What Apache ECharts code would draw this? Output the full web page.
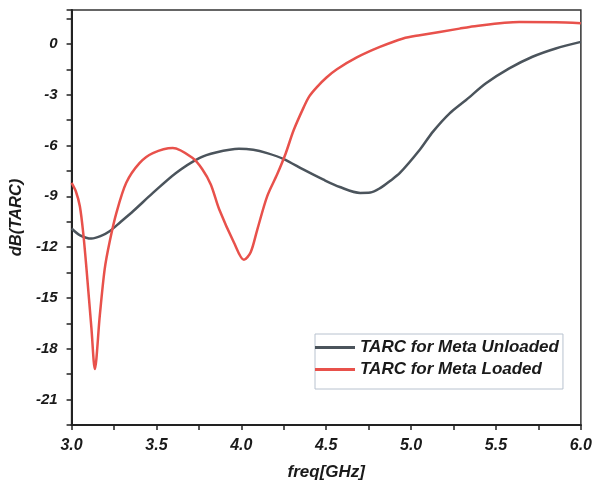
<!DOCTYPE html>
<html>
<head>
<meta charset="utf-8">
<script src="https://cdn.jsdelivr.net/npm/echarts@6/dist/echarts.min.js"></script>
<style>
  html, body { margin: 0; padding: 0; background: #fff; }
  #main { width: 595px; height: 489px; }
</style>
</head>
<body>
<div id="main"></div>
<script>
// freq[GHz] / dB values
var unloadedFreq = [3.00, 3.05, 3.117, 3.17, 3.224, 3.29, 3.362, 3.479, 3.615, 3.752, 3.85, 3.986, 4.07, 4.152, 4.25, 4.367, 4.484, 4.58, 4.70, 4.76, 4.82, 4.875, 4.934, 5.051, 5.129, 5.227, 5.324, 5.441, 5.578, 5.715, 5.852, 6.00];
var unloadedDb = [-10.9, -11.3, -11.49, -11.35, -11.06, -10.5, -9.88, -8.8, -7.62, -6.74, -6.41, -6.19, -6.25, -6.45, -6.8, -7.43, -8.02, -8.45, -8.8, -8.78, -8.5, -8.1, -7.62, -6.25, -5.18, -4.1, -3.31, -2.33, -1.45, -0.76, -0.27, 0.12];

var loadedFreq = [3.00, 3.025, 3.049, 3.07, 3.088, 3.117, 3.137, 3.166, 3.195, 3.224, 3.264, 3.322, 3.40, 3.479, 3.596, 3.713, 3.77, 3.82, 3.87, 3.957, 4.015, 4.055, 4.094, 4.152, 4.211, 4.26, 4.308, 4.367, 4.40, 4.445, 4.50, 4.563, 4.68, 4.816, 4.953, 5.051, 5.285, 5.344, 5.637, 5.85, 6.00];
var loadedDb = [-8.2, -8.7, -9.6, -11.3, -13.3, -16.8, -19.2, -16.06, -13.3, -11.7, -9.98, -8.2, -7.04, -6.45, -6.15, -6.74, -7.4, -8.3, -9.78, -11.74, -12.75, -12.3, -10.96, -9.0, -7.7, -6.5, -5.1, -3.75, -3.1, -2.55, -2.0, -1.5, -0.8, -0.18, 0.32, 0.51, 0.9, 1.0, 1.29, 1.28, 1.22];

var seriesNames = ['TARC for Meta Unloaded', 'TARC for Meta Loaded'];

function pairs(xs, ys) {
  var out = [];
  for (var i = 0; i < xs.length; i++) out.push([xs[i], ys[i]]);
  return out;
}

var font = 'Liberation Sans';
var chart = echarts.init(document.getElementById('main'));

chart.setOption({
  backgroundColor: '#ffffff',
  animation: false,
  grid: {
    left: 70, right: 13, top: 10, bottom: 64,
    show: true,
    borderColor: '#333',
    borderWidth: 1.5
  },
  legend: {
    orient: 'vertical',
    left: 315,
    top: 334,
    padding: [5, 4, 11, 0],
    icon: 'rect',
    itemWidth: 40,
    itemHeight: 3,
    itemGap: 5,
    borderColor: '#b8c2cf',
    borderWidth: 1,
    data: seriesNames,
    textStyle: {
      fontFamily: font,
      fontSize: 17,
      fontWeight: 'bold',
      fontStyle: 'italic',
      color: '#1a1a1a'
    }
  },
  xAxis: {
    type: 'value',
    min: 3,
    max: 6,
    interval: 0.25,
    name: 'freq[GHz]',
    nameLocation: 'middle',
    nameGap: 39,
    nameTextStyle: { fontFamily: font, fontSize: 17, fontWeight: 'bold', fontStyle: 'italic', color: '#1a1a1a' },
    axisLine: { onZero: false, lineStyle: { color: '#222', width: 2 } },
    axisTick: { length: 5, lineStyle: { color: '#222', width: 1.5 } },
    axisLabel: {
      margin: 13,
      fontFamily: font,
      fontSize: 16,
      fontWeight: 'bold',
      fontStyle: 'italic',
      color: '#1a1a1a',
      formatter: function (v) {
        return Math.abs(v * 2 - Math.round(v * 2)) < 1e-6 ? v.toFixed(1) : '';
      }
    },
    splitLine: { show: false }
  },
  yAxis: {
    type: 'value',
    min: -22.5,
    max: 2,
    interval: 1.5,
    name: 'dB(TARC)',
    nameLocation: 'middle',
    nameGap: 43,
    nameTextStyle: { fontFamily: font, fontSize: 16.5, fontWeight: 'bold', fontStyle: 'italic', color: '#1a1a1a' },
    axisLine: { show: true, onZero: false, lineStyle: { color: '#222', width: 2 } },
    axisTick: { show: true, length: 5, lineStyle: { color: '#222', width: 1.5 } },
    axisLabel: {
      margin: 14,
      fontFamily: font,
      fontSize: 15,
      fontWeight: 'bold',
      fontStyle: 'italic',
      color: '#1a1a1a',
      formatter: function (v) {
        return Math.abs(v / 3 - Math.round(v / 3)) < 1e-6 ? String(Math.round(v)) : '';
      }
    },
    splitLine: { show: false }
  },
  series: [
    {
      name: seriesNames[0],
      type: 'line',
      smooth: 0.3,
      symbol: 'none',
      lineStyle: { color: '#4b545c', width: 2.5 },
      itemStyle: { color: '#4b545c' },
      data: pairs(unloadedFreq, unloadedDb)
    },
    {
      name: seriesNames[1],
      type: 'line',
      smooth: 0.3,
      symbol: 'none',
      lineStyle: { color: '#e8514b', width: 2.5 },
      itemStyle: { color: '#e8514b' },
      data: pairs(loadedFreq, loadedDb)
    }
  ]
});
</script>
</body>
</html>
